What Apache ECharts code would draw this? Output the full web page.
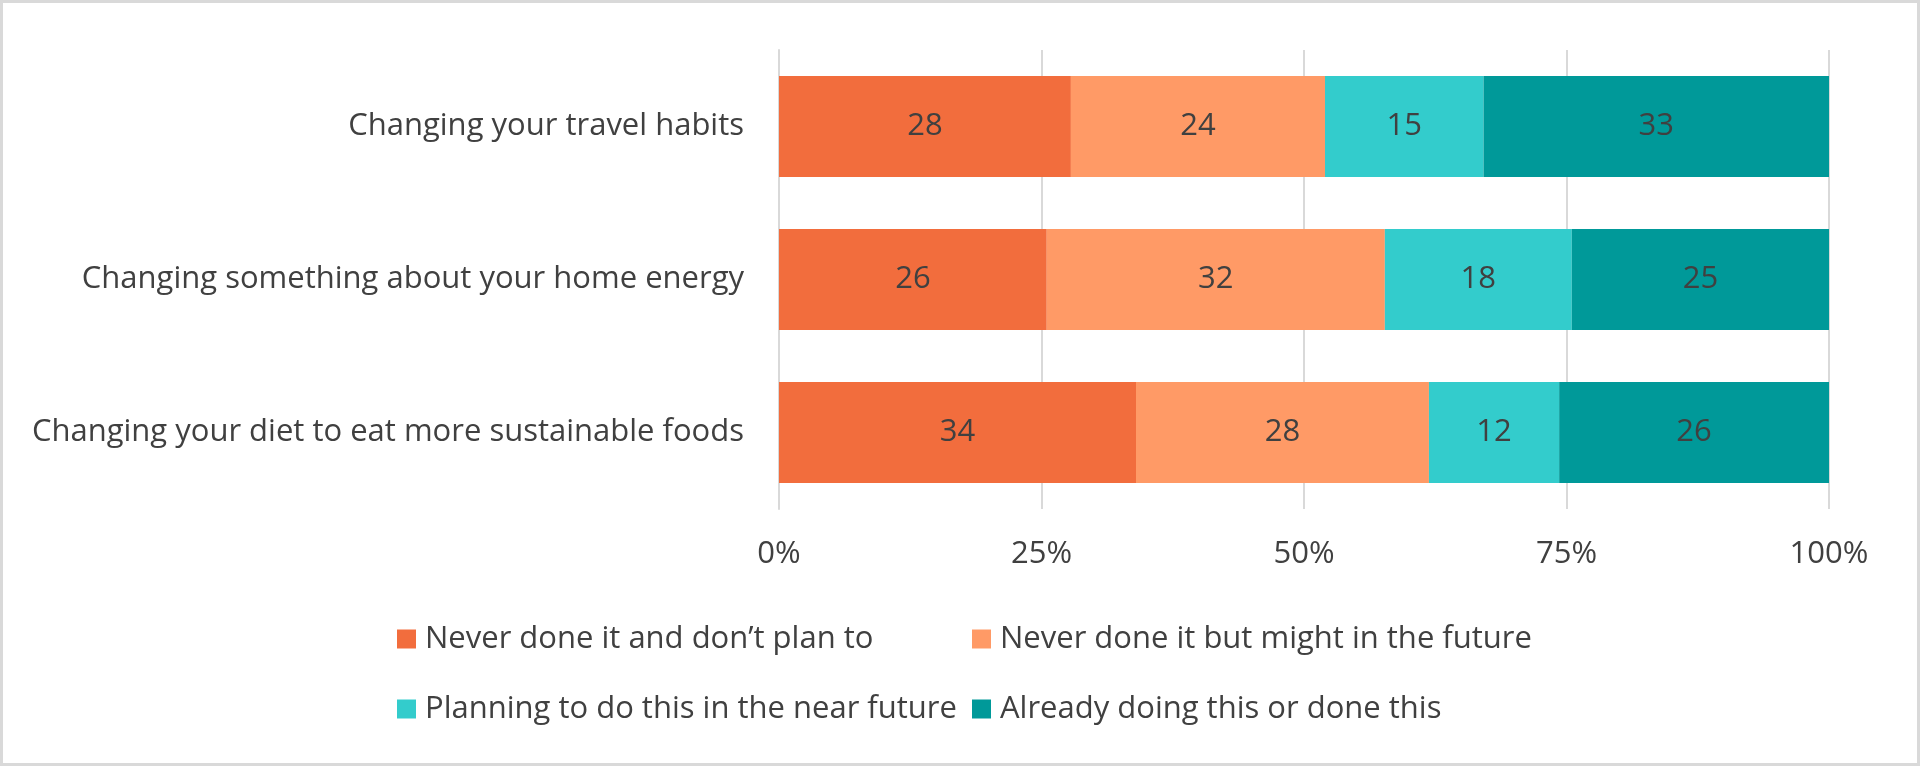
<!DOCTYPE html>
<html>
<head>
<meta charset="utf-8">
<script src="https://cdn.jsdelivr.net/npm/echarts@6/dist/echarts.min.js"></script>
<style>
  html, body { margin: 0; padding: 0; background: #ffffff; }
  #wrap { position: relative; width: 1920px; height: 766px; }
  #chart { position: absolute; left: 0; top: 0; width: 1920px; height: 766px; }
  #frame { position: absolute; left: 0; top: 0; width: 1920px; height: 766px; box-sizing: border-box; border: 3px solid #d9d9d9; pointer-events: none; }
</style>
</head>
<body>
<div id="wrap"><div id="chart"></div><div id="frame"></div></div>
<script>
const categories = [
  'Changing your travel habits',
  'Changing something about your home energy',
  'Changing your diet to eat more sustainable foods'
];
const seriesNames = [
  'Never done it and don\u2019t plan to',
  'Never done it but might in the future',
  'Planning to do this in the near future',
  'Already doing this or done this'
];
const neverNoPlan = [27.8, 25.5, 34.0];
const neverMight = [24.2, 32.2, 27.9];
const planning = [15.1, 17.8, 12.4];
const already = [32.9, 24.5, 25.7];
const xTicks = [0, 25, 50, 75, 100];
const colors = ['#F26D3D', '#FF9A66', '#33CCCC', '#009999'];

const FONT = 'Open Sans';
const FS = 31;
const TXT = '#404040';

const chart = echarts.init(document.getElementById('chart'));
const values = [neverNoPlan, neverMight, planning, already];
chart.setOption({
  animation: false,
  textStyle: { fontFamily: FONT },
  grid: { left: 779, right: 91, top: 50, bottom: 257, containLabel: false },
  xAxis: {
    type: 'value', min: xTicks[0], max: xTicks[xTicks.length - 1], interval: 25,
    axisLine: { show: false }, axisTick: { show: false },
    axisLabel: { formatter: '{value}%', color: TXT, fontSize: FS, fontFamily: FONT, margin: 30 },
    splitLine: { lineStyle: { color: '#d9d9d9', width: 2 } }
  },
  yAxis: {
    type: 'category', data: categories, inverse: true,
    axisTick: { show: false },
    axisLine: { lineStyle: { color: '#d9d9d9', width: 2 } },
    axisLabel: { color: TXT, fontSize: FS, fontFamily: FONT, margin: 35 }
  },
  legend: {
    left: 397, top: 609, width: 1200, padding: 0,
    itemWidth: 19, itemHeight: 19, itemGap: 10,
    icon: 'rect',
    textStyle: { color: TXT, fontSize: FS, fontFamily: FONT, width: 537, lineHeight: 60, padding: [0, 0, 0, 4] },
    data: seriesNames
  },
  series: seriesNames.map((name, i) => ({
    name, type: 'bar', stack: 'total', barWidth: '66%',
    itemStyle: { color: colors[i] },
    label: { show: true, position: 'inside', color: TXT, fontSize: FS, fontFamily: FONT,
      formatter: p => Math.round(p.value) },
    data: values[i]
  }))
});
</script>
</body>
</html>
